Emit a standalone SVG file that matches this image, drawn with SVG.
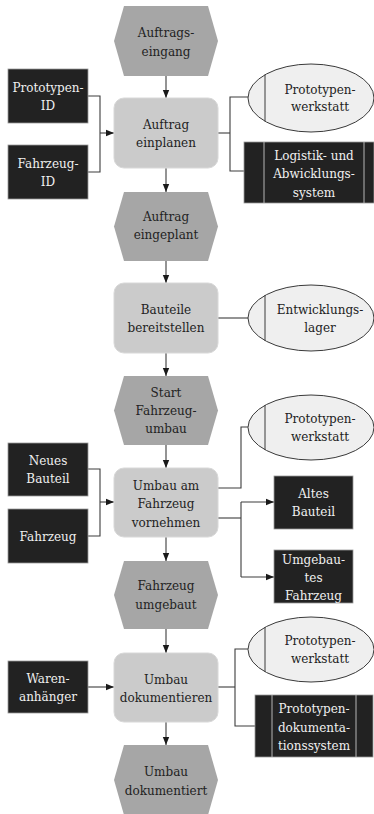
<svg xmlns="http://www.w3.org/2000/svg" width="374" height="814" viewBox="0 0 374 814">
  <style>
    text { font-family: "DejaVu Serif", "Liberation Serif", serif; font-size: 12px; text-anchor: middle; }
    .ev { fill: #a6a6a6; }
    .fn { fill: #cbcbcb; stroke: #d8d8d8; stroke-width: 1; }
    .dt { fill: #222222; stroke: #9a9a9a; stroke-width: 0.8; }
    .org { fill: #efefef; stroke: #3a3a3a; stroke-width: 1; }
    .sep { stroke: #3a3a3a; stroke-width: 1; }
    .sys-sep { stroke: #b5b5b5; stroke-width: 1; }
    .dark { fill: #222222; }
    .light { fill: #f0f0f0; }
    .link { fill: none; stroke: #3c3c3c; stroke-width: 1.1; }
  </style>
  <defs>
    <marker id="arrow" viewBox="0 0 8 8" refX="8" refY="4" markerWidth="8" markerHeight="8" markerUnits="userSpaceOnUse" orient="auto">
      <path d="M0,0.8 L8,4 L0,7.2 Z" fill="#1a1a1a"/>
    </marker>
  </defs>

  <!-- connectors -->
  <g id="connectors" class="link">
    <line x1="166" y1="76" x2="166" y2="98" marker-end="url(#arrow)"/>
    <polyline points="88,96 100,96 100,172 88,172"/>
    <line x1="100" y1="133" x2="114" y2="133" marker-end="url(#arrow)"/>
    <line x1="218" y1="133" x2="230" y2="133"/>
    <polyline points="248,97 230,97 230,171 244,171"/>
    <line x1="166" y1="168" x2="166" y2="192" marker-end="url(#arrow)"/>

    <line x1="166" y1="261" x2="166" y2="283" marker-end="url(#arrow)"/>
    <line x1="218" y1="318" x2="248" y2="318"/>
    <line x1="166" y1="353" x2="166" y2="376" marker-end="url(#arrow)"/>

    <line x1="166" y1="445" x2="166" y2="468" marker-end="url(#arrow)"/>
    <polyline points="88,469 100,469 100,536 88,536"/>
    <line x1="100" y1="502" x2="114" y2="502" marker-end="url(#arrow)"/>
    <polyline points="218,488 241,488 241,427 248,427"/>
    <line x1="218" y1="518" x2="241" y2="518"/>
    <line x1="241" y1="502" x2="241" y2="577"/>
    <line x1="241" y1="502" x2="274" y2="502" marker-end="url(#arrow)"/>
    <line x1="241" y1="577" x2="274" y2="577" marker-end="url(#arrow)"/>
    <line x1="166" y1="537" x2="166" y2="561" marker-end="url(#arrow)"/>

    <line x1="166" y1="629" x2="166" y2="653" marker-end="url(#arrow)"/>
    <line x1="88" y1="687" x2="114" y2="687" marker-end="url(#arrow)"/>
    <line x1="218" y1="687" x2="235" y2="687"/>
    <polyline points="248,649 235,649 235,726 255,726"/>
    <line x1="166" y1="722" x2="166" y2="745" marker-end="url(#arrow)"/>
  </g>

  <!-- events -->
  <g id="ev-auftragseingang">
    <polygon class="ev" points="124,6 208,6 218,41 208,76 124,76 114,41"/>
    <text class="dark" x="166" y="37">Auftrags-</text>
    <text class="dark" x="166" y="56">eingang</text>
  </g>
  <g id="ev-auftrag-eingeplant">
    <polygon class="ev" points="124,192 208,192 218,226.5 208,261 124,261 114,226.5"/>
    <text class="dark" x="166" y="221">Auftrag</text>
    <text class="dark" x="166" y="239">eingeplant</text>
  </g>
  <g id="ev-start-umbau">
    <polygon class="ev" points="124,376 208,376 218,410.5 208,445 124,445 114,410.5"/>
    <text class="dark" x="166" y="397">Start</text>
    <text class="dark" x="166" y="415">Fahrzeug-</text>
    <text class="dark" x="166" y="433">umbau</text>
  </g>
  <g id="ev-fahrzeug-umgebaut">
    <polygon class="ev" points="124,561 208,561 218,595 208,629 124,629 114,595"/>
    <text class="dark" x="166" y="590">Fahrzeug</text>
    <text class="dark" x="166" y="609">umgebaut</text>
  </g>
  <g id="ev-umbau-dokumentiert">
    <polygon class="ev" points="124,745 208,745 218,780 208,815 124,815 114,780"/>
    <text class="dark" x="166" y="776">Umbau</text>
    <text class="dark" x="166" y="795">dokumentiert</text>
  </g>

  <!-- functions -->
  <g id="fn-auftrag-einplanen">
    <rect class="fn" x="114" y="98" width="104" height="70" rx="10"/>
    <text class="dark" x="166" y="129">Auftrag</text>
    <text class="dark" x="166" y="147">einplanen</text>
  </g>
  <g id="fn-bauteile-bereitstellen">
    <rect class="fn" x="114" y="283" width="104" height="70" rx="10"/>
    <text class="dark" x="166" y="314">Bauteile</text>
    <text class="dark" x="166" y="332">bereitstellen</text>
  </g>
  <g id="fn-umbau-vornehmen">
    <rect class="fn" x="114" y="468" width="104" height="69" rx="10"/>
    <text class="dark" x="166" y="490">Umbau am</text>
    <text class="dark" x="166" y="508">Fahrzeug</text>
    <text class="dark" x="166" y="527">vornehmen</text>
  </g>
  <g id="fn-umbau-dokumentieren">
    <rect class="fn" x="114" y="653" width="104" height="69" rx="10"/>
    <text class="dark" x="166" y="684">Umbau</text>
    <text class="dark" x="166" y="702">dokumentieren</text>
  </g>

  <!-- information objects -->
  <g id="in-prototypen-id">
    <rect class="dt" x="8" y="69" width="80" height="54"/>
    <text class="light" x="48" y="92">Prototypen-</text>
    <text class="light" x="48" y="110">ID</text>
  </g>
  <g id="in-fahrzeug-id">
    <rect class="dt" x="8" y="145" width="80" height="54"/>
    <text class="light" x="48" y="168">Fahrzeug-</text>
    <text class="light" x="48" y="186">ID</text>
  </g>
  <g id="in-neues-bauteil">
    <rect class="dt" x="8" y="443" width="80" height="53"/>
    <text class="light" x="48" y="465">Neues</text>
    <text class="light" x="48" y="483">Bauteil</text>
  </g>
  <g id="in-fahrzeug">
    <rect class="dt" x="8" y="509" width="80" height="54"/>
    <text class="light" x="48" y="541">Fahrzeug</text>
  </g>
  <g id="in-warenanhaenger">
    <rect class="dt" x="8" y="661" width="80" height="52"/>
    <text class="light" x="48" y="683">Waren-</text>
    <text class="light" x="48" y="701">anhänger</text>
  </g>
  <g id="out-altes-bauteil">
    <rect class="dt" x="274" y="476" width="79" height="53"/>
    <text class="light" x="313.5" y="498">Altes</text>
    <text class="light" x="313.5" y="516">Bauteil</text>
  </g>
  <g id="out-umgebautes-fahrzeug">
    <rect class="dt" x="274" y="550" width="79" height="53"/>
    <text class="light" x="313.5" y="564">Umgebau-</text>
    <text class="light" x="313.5" y="582">tes</text>
    <text class="light" x="313.5" y="600">Fahrzeug</text>
  </g>

  <!-- organisational units -->
  <g id="org-werkstatt-1">
    <ellipse class="org" cx="311" cy="98" rx="63" ry="34"/>
    <line class="sep" x1="265" y1="74.5" x2="265" y2="121.5"/>
    <text class="dark" x="320" y="94">Prototypen-</text>
    <text class="dark" x="320" y="111">werkstatt</text>
  </g>
  <g id="org-entwicklungslager">
    <ellipse class="org" cx="311" cy="318" rx="63" ry="33"/>
    <line class="sep" x1="265" y1="295" x2="265" y2="341"/>
    <text class="dark" x="320" y="314">Entwicklungs-</text>
    <text class="dark" x="320" y="332">lager</text>
  </g>
  <g id="org-werkstatt-2">
    <ellipse class="org" cx="311" cy="427.5" rx="63" ry="32.5"/>
    <line class="sep" x1="265" y1="405" x2="265" y2="450"/>
    <text class="dark" x="320" y="423">Prototypen-</text>
    <text class="dark" x="320" y="441">werkstatt</text>
  </g>
  <g id="org-werkstatt-3">
    <ellipse class="org" cx="311" cy="649.5" rx="63" ry="32.5"/>
    <line class="sep" x1="265" y1="627" x2="265" y2="672"/>
    <text class="dark" x="320" y="645">Prototypen-</text>
    <text class="dark" x="320" y="663">werkstatt</text>
  </g>

  <!-- application systems -->
  <g id="sys-logistik">
    <rect class="dt" x="244" y="142" width="130" height="61"/>
    <line class="sys-sep" x1="264" y1="142" x2="264" y2="203"/>
    <line class="sys-sep" x1="364" y1="142" x2="364" y2="203"/>
    <text class="light" x="314" y="160">Logistik- und</text>
    <text class="light" x="314" y="178">Abwicklungs-</text>
    <text class="light" x="314" y="197">system</text>
  </g>
  <g id="sys-dokumentation">
    <rect class="dt" x="255" y="695" width="118" height="62"/>
    <line class="sys-sep" x1="272" y1="695" x2="272" y2="757"/>
    <line class="sys-sep" x1="356" y1="695" x2="356" y2="757"/>
    <text class="light" x="314" y="713">Prototypen-</text>
    <text class="light" x="314" y="732">dokumenta-</text>
    <text class="light" x="314" y="750">tionssystem</text>
  </g>
</svg>
